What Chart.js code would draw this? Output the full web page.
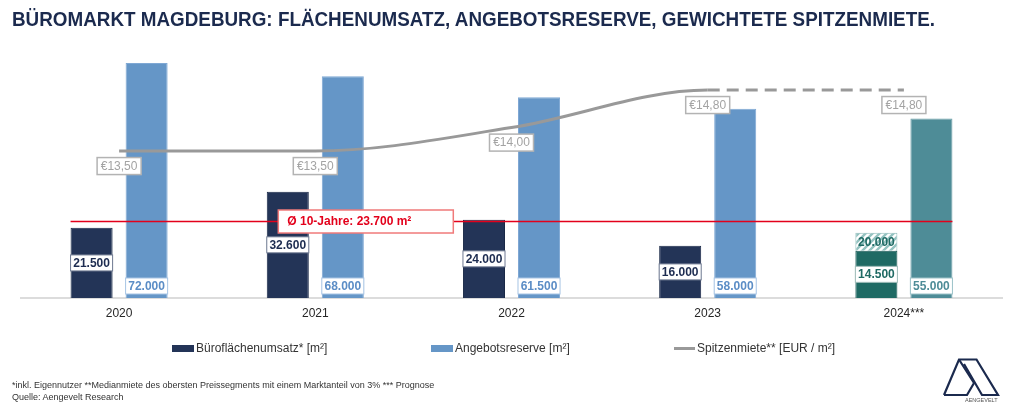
<!DOCTYPE html>
<html>
<head>
<meta charset="utf-8">
<script src="https://cdn.jsdelivr.net/npm/chart.js@4.4.1/dist/chart.umd.min.js"></script>
<style>
  html, body { margin: 0; padding: 0; background: #fff; }
  #wrap { position: relative; width: 1024px; height: 412px; overflow: hidden; font-family: "Liberation Sans", Arial, sans-serif; }
  #c { position: absolute; left: 0; top: 0; }
  #title { position: absolute; left: 12px; top: 8px; font-weight: bold; font-size: 20px; color: #1b2a4e; white-space: nowrap; transform-origin: 0 0; }
  .lg { position: absolute; font-size: 12px; line-height: 14px; color: #333; white-space: nowrap; }
  .sw { position: absolute; }
  .foot { position: absolute; left: 12px; font-size: 9px; line-height: 12px; color: #333; white-space: nowrap; }
  #logo { position: absolute; left: 930px; top: 352px; }
</style>
</head>
<body>
<div id="wrap">
  <canvas id="c" width="1024" height="412"></canvas>
  <div id="title">BÜROMARKT MAGDEBURG: FLÄCHENUMSATZ, ANGEBOTSRESERVE, GEWICHTETE SPITZENMIETE.</div>

  <div class="sw" style="left:172px; top:345px; width:22px; height:7px; background:#233457;"></div>
  <div class="lg" style="left:196px; top:341px;">Büroflächenumsatz* [m²]</div>
  <div class="sw" style="left:431px; top:345px; width:22px; height:7px; background:#6596c7;"></div>
  <div class="lg" style="left:455px; top:341px;">Angebotsreserve [m²]</div>
  <div class="sw" style="left:674px; top:347px; width:21px; height:3px; background:#999;"></div>
  <div class="lg" style="left:697px; top:341px;">Spitzenmiete** [EUR / m²]</div>

  <div class="foot" style="top:379px;">*inkl. Eigennutzer **Medianmiete des obersten Preissegments mit einem Marktanteil von 3% *** Prognose</div>
  <div class="foot" style="top:391px;">Quelle: Aengevelt Research</div>

  <svg id="logo" width="94" height="60" viewBox="0 0 94 60">
    <g fill="none" stroke="#1b2a4e" stroke-width="2.2" stroke-linejoin="miter">
      <path d="M14,43 L29,7.5 L46.5,7.5 L68,43 L52,43 L34,12"/>
      <path d="M29,7.5 L44,31 L37,43 L14,43"/>
    </g>
    <text x="35" y="50" font-family="Liberation Sans, Arial, sans-serif" font-size="5.5" fill="#555">AENGEVELT</text>
  </svg>
</div>

<script>
// ---- data ----
const categories = ['2020', '2021', '2022', '2023', '2024***'];
const umsatz = [21500, 32600, 24000, 16000, 14500];
const umsatzPrognose = [null, null, null, null, 5500];
const angebot = [72000, 68000, 61500, 58000, 55000];
const spitzenmiete = [13.5, 13.5, 14.0, 14.8, 14.8];
const umsatzLabels = ['21.500', '32.600', '24.000', '16.000', '14.500'];
const prognoseLabels = [null, null, null, null, '20.000'];
const angebotLabels = ['72.000', '68.000', '61.500', '58.000', '55.000'];
const mieteLabels = ['€13,50', '€13,50', '€14,00', '€14,80', '€14,80'];
const avg10 = 23700;
const avg10Label = 'Ø 10-Jahre: 23.700 m²';

// ---- title fit ----
(function () {
  const t = document.getElementById('title');
  const w = t.getBoundingClientRect().width;
  t.style.transform = 'scaleX(' + (923 / w) + ')';
})();

const FONT = '"Liberation Sans", Arial, sans-serif';
const navy = '#233457', blue = '#6596c7', tealDark = '#1f6a64', teal = '#4e8c97';

function hatch() {
  const s = 7;
  const c = document.createElement('canvas');
  c.width = s; c.height = s;
  const x = c.getContext('2d');
  x.fillStyle = '#ffffff';
  x.fillRect(0, 0, s, s);
  x.strokeStyle = '#93c2c0';
  x.lineWidth = 2.4;
  x.beginPath();
  x.moveTo(-1, s + 1); x.lineTo(s + 1, -1);
  x.moveTo(-1, 1); x.lineTo(1, -1);
  x.moveTo(s - 1, s + 1); x.lineTo(s + 1, s - 1);
  x.stroke();
  return x.createPattern(c, 'repeat');
}

function box(ctx, cx, cy, w, h, stroke, lw) {
  ctx.fillStyle = '#fff';
  ctx.fillRect(cx - w / 2, cy - h / 2, w, h);
  ctx.strokeStyle = stroke;
  ctx.lineWidth = lw;
  ctx.strokeRect(cx - w / 2, cy - h / 2, w, h);
}

const labelPlugin = {
  id: 'labels',
  afterDatasetsDraw(chart) {
    const ctx = chart.ctx;
    const yS = chart.scales.y;
    const mU = chart.getDatasetMeta(0), mP = chart.getDatasetMeta(1), mA = chart.getDatasetMeta(2), mL = chart.getDatasetMeta(3);
    ctx.save();
    ctx.textAlign = 'center';
    ctx.textBaseline = 'middle';

    // average line
    const left = mU.data[0].x - mU.data[0].width / 2;
    const right = mA.data[4].x + mA.data[4].width / 2;
    const ya = Math.round(yS.getPixelForValue(avg10)) + 0.5;
    ctx.strokeStyle = '#e3001b';
    ctx.lineWidth = 1.5;
    ctx.beginPath(); ctx.moveTo(left, ya); ctx.lineTo(right, ya); ctx.stroke();

    // average label
    const bx = chart.scales.x.getPixelForValue(1) - 37;
    ctx.fillStyle = '#fff';
    ctx.fillRect(bx, ya - 11.5, 175, 23);
    ctx.strokeStyle = '#f07a7a';
    ctx.lineWidth = 1.5;
    ctx.strokeRect(bx, ya - 11.5, 175, 23);
    ctx.fillStyle = '#e3001b';
    ctx.font = 'bold 12px ' + FONT;
    ctx.textAlign = 'left';
    ctx.fillText(avg10Label, bx + 9, ya + 0.5);
    ctx.textAlign = 'center';

    // Umsatz labels
    mU.data.forEach((el, i) => {
      const cy = (el.y + el.base) / 2;
      const last = i === 4;
      box(ctx, el.x, cy, el.width, 16, last ? '#9fbcb9' : '#6f7a92', 1);
      ctx.fillStyle = last ? tealDark : '#1d2c50';
      ctx.font = 'bold 12px ' + FONT;
      ctx.fillText(umsatzLabels[i], el.x, cy + 0.5);
    });

    // Prognose label
    mP.data.forEach((el, i) => {
      if (!prognoseLabels[i]) return;
      const cy = (el.y + el.base) / 2;
      ctx.fillStyle = tealDark;
      ctx.font = 'bold 12px ' + FONT;
      ctx.fillText(prognoseLabels[i], el.x, cy + 1);
    });

    // Angebot labels
    mA.data.forEach((el, i) => {
      const cy = el.base - 12;
      const last = i === 4;
      box(ctx, el.x, cy, el.width, 16, last ? '#9cc2c8' : '#a7c4e4', 1);
      ctx.fillStyle = last ? teal : '#5b8dc6';
      ctx.font = 'bold 12px ' + FONT;
      ctx.fillText(angebotLabels[i], el.x, cy + 0.5);
    });

    // Miete labels
    mL.data.forEach((pt, i) => {
      const cy = pt.y + 15;
      box(ctx, pt.x, cy, 44, 17, '#b3b3b3', 1.5);
      ctx.fillStyle = '#a3a3a3';
      ctx.font = '12px ' + FONT;
      ctx.fillText(mieteLabels[i], pt.x, cy + 0.5);
    });
    ctx.restore();
  }
};

const bgPlugin = {
  id: 'bg',
  beforeDraw(chart) {
    const ctx = chart.ctx;
    ctx.save();
    ctx.fillStyle = '#fff';
    ctx.fillRect(0, 0, chart.width, chart.height);
    ctx.restore();
  }
};

new Chart(document.getElementById('c'), {
  type: 'bar',
  data: {
    labels: categories,
    datasets: [
      {
        label: 'Büroflächenumsatz* [m²]',
        data: umsatz,
        stack: 'u',
        order: 1,
        backgroundColor: [navy, navy, navy, navy, tealDark],
        borderColor: ['#1a2947', '#1a2947', '#1a2947', '#1a2947', '#1a5a55'],
        borderWidth: 1,
        categoryPercentage: 0.561,
        barPercentage: 0.764
      },
      {
        label: 'Prognose',
        data: umsatzPrognose,
        stack: 'u',
        order: 1,
        backgroundColor: hatch(),
        borderColor: '#8fbcba',
        borderWidth: 1,
        categoryPercentage: 0.561,
        barPercentage: 0.764
      },
      {
        label: 'Angebotsreserve [m²]',
        data: angebot,
        stack: 'a',
        order: 1,
        backgroundColor: [blue, blue, blue, blue, teal],
        borderColor: ['#7fa8d4', '#7fa8d4', '#7fa8d4', '#7fa8d4', '#6a9ea7'],
        borderWidth: 1,
        categoryPercentage: 0.561,
        barPercentage: 0.764
      },
      {
        type: 'line',
        label: 'Spitzenmiete** [EUR / m²]',
        data: spitzenmiete,
        yAxisID: 'y2',
        order: 0,
        borderColor: '#999999',
        borderWidth: 3,
        borderCapStyle: 'butt',
        pointRadius: 0,
        cubicInterpolationMode: 'monotone',
        fill: false,
        segment: {
          borderDash: (c) => (c.p1DataIndex === 4 ? [12, 7] : undefined)
        }
      }
    ]
  },
  options: {
    responsive: false,
    animation: false,
    devicePixelRatio: 1,
    layout: { padding: { left: 21, right: 22, top: 37, bottom: 0 } },
    plugins: { legend: { display: false }, tooltip: { enabled: false } },
    scales: {
      x: {
        stacked: true,
        grid: { display: false, drawTicks: false },
        border: { display: true, color: '#dcdcdc', width: 2 },
        ticks: { color: '#262626', font: { family: FONT, size: 12 }, padding: 8 },
        afterFit: (s) => { s.height = 114; }
      },
      y: {
        stacked: true,
        display: false,
        min: 0,
        max: 80000
      },
      y2: {
        display: false,
        position: 'right',
        min: 10.37,
        max: 15.93,
        grid: { display: false }
      }
    }
  },
  plugins: [bgPlugin, labelPlugin]
});
</script>
</body>
</html>
